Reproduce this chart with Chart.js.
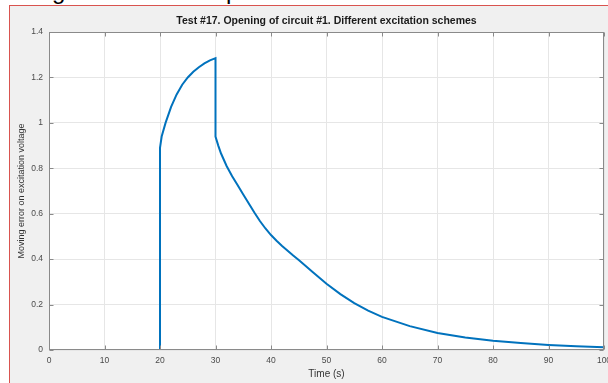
<!DOCTYPE html>
<html>
<head>
<meta charset="utf-8">
<script src="https://cdn.jsdelivr.net/npm/chart.js@4.4.1/dist/chart.umd.min.js"></script>
<style>
  html, body { margin: 0; padding: 0; background: #fff; }
  #wrap { position: relative; width: 608px; height: 383px; overflow: hidden; }
  #frame { position: absolute; left: 9px; top: 5px; right: 0; bottom: 0; background: #f0f0f0;
           border-left: 1px solid #d9534f; border-top: 1px solid #d9534f; }
  .cut { position: absolute; top: -21px; font: 24px "Liberation Sans", Arial, sans-serif; line-height: 24px; color: #000; }
  canvas { position: absolute; left: 0; top: 0; }
</style>
</head>
<body>
<div id="wrap">
  <span class="cut" style="left:52px">g</span>
  <span class="cut" style="left:226px">p</span>
  <div id="frame"></div>
  <canvas id="chart1" width="608" height="383"></canvas>
</div>
<script>
// values (time in s, moving error)
var timeValues = [0, 20, 20, 20.3, 21, 22, 23, 24, 25, 26, 27, 28, 29, 30,
  30, 30.5, 31, 32, 33, 34, 35, 36, 37, 38, 39, 40,
  41, 42, 43, 44, 45, 47.5, 50, 52.5, 55, 57.5, 60,
  65, 70, 75, 80, 85, 90, 95, 100];
var errorValues = [0, 0, 0.89, 0.94, 1.0, 1.07, 1.125, 1.168, 1.2, 1.225, 1.245, 1.262, 1.275, 1.285,
  0.94, 0.90, 0.865, 0.81, 0.765, 0.725, 0.685, 0.645, 0.605, 0.568, 0.535, 0.506,
  0.481, 0.458, 0.437, 0.416, 0.396, 0.343, 0.292, 0.246, 0.206, 0.173, 0.146,
  0.105, 0.075, 0.055, 0.041, 0.0305, 0.0225, 0.0165, 0.012];

var xTicks = [0, 10, 20, 30, 40, 50, 60, 70, 80, 90, 100];
var xTickLabels = ['0', '10', '20', '30', '40', '50', '60', '70', '80', '90', '100'];
var yTicks = [0, 0.2, 0.4, 0.6, 0.8, 1, 1.2, 1.4];
var yTickLabels = ['0', '0.2', '0.4', '0.6', '0.8', '1', '1.2', '1.4'];

var points = timeValues.map(function (t, i) { return { x: t, y: errorValues[i] }; });

var fontFamily = '"Liberation Sans", Arial, Helvetica, sans-serif';
var axisGray = '#8a8a8a';

// white plot box, full frame and inward ticks like matlab axes
var matlabAxes = {
  id: 'matlabAxes',
  beforeDraw: function (chart) {
    var a = chart.chartArea, ctx = chart.ctx;
    ctx.save();
    ctx.fillStyle = '#ffffff';
    ctx.fillRect(a.left, a.top, a.right - a.left, a.bottom - a.top);
    ctx.restore();
  },
  afterDraw: function (chart) {
    var a = chart.chartArea, ctx = chart.ctx;
    var xs = chart.scales.x, ys = chart.scales.y;
    var len = 4;
    var l = Math.round(a.left) + 0.5, r = Math.round(a.right) - 0.5;
    var t = Math.round(a.top) + 0.5, b = Math.round(a.bottom) - 0.5;
    ctx.save();
    ctx.strokeStyle = axisGray;
    ctx.lineWidth = 1;
    ctx.beginPath();
    xTicks.forEach(function (v) {
      var px = Math.round(xs.getPixelForValue(v)) + 0.5;
      ctx.moveTo(px, b); ctx.lineTo(px, b - len);
      ctx.moveTo(px, t); ctx.lineTo(px, t + len);
    });
    yTicks.forEach(function (v) {
      var py = Math.round(ys.getPixelForValue(v)) + 0.5;
      ctx.moveTo(l, py); ctx.lineTo(l + len, py);
      ctx.moveTo(r, py); ctx.lineTo(r - len, py);
    });
    ctx.stroke();
    ctx.strokeRect(l, t, r - l, b - t);
    ctx.restore();
  }
};

var ctx = document.getElementById('chart1').getContext('2d');
var myChart = new Chart(ctx, {
  type: 'line',
  data: {
    datasets: [{
      label: 'Moving error',
      data: points,
      borderColor: '#0072bd',
      borderWidth: 2,
      pointRadius: 0,
      tension: 0,
      fill: false
    }]
  },
  options: {
    responsive: false,
    animation: false,
    events: [],
    layout: { padding: { left: 0, right: 4, top: 0, bottom: 0 } },
    plugins: {
      legend: { display: false },
      tooltip: { enabled: false },
      title: {
        display: true,
        fullSize: false,
        text: 'Test #17. Opening of circuit #1. Different excitation schemes',
        color: '#1a1a1a',
        font: { family: fontFamily, size: 10.5, weight: 'bold', lineHeight: '12px' },
        padding: { top: 15, bottom: 5 }
      }
    },
    scales: {
      x: {
        type: 'linear',
        min: 0,
        max: 100,
        afterBuildTicks: function (scale) {
          scale.ticks = xTicks.map(function (v) { return { value: v }; });
        },
        afterFit: function (scale) {
          scale.height = 33;
          scale.paddingLeft = 0;
          scale.paddingRight = 0;
        },
        ticks: {
          autoSkip: false,
          maxRotation: 0,
          padding: 6,
          color: '#4a4a4a',
          font: { family: fontFamily, size: 8.5 },
          callback: function (value, index) { return xTickLabels[index]; }
        },
        grid: { color: '#e6e6e6', drawTicks: false },
        border: { display: false },
        title: {
          display: true,
          text: 'Time (s)',
          color: '#333333',
          font: { family: fontFamily, size: 10, lineHeight: '12px' },
          padding: { top: 0, bottom: 3 }
        }
      },
      y: {
        type: 'linear',
        min: 0,
        max: 1.4,
        afterBuildTicks: function (scale) {
          scale.ticks = yTicks.map(function (v) { return { value: v }; });
        },
        afterFit: function (scale) {
          scale.width = 49;
          scale.paddingTop = 0;
          scale.paddingBottom = 0;
        },
        ticks: {
          autoSkip: false,
          padding: 6,
          color: '#4a4a4a',
          font: { family: fontFamily, size: 8.5 },
          callback: function (value, index) { return yTickLabels[index]; }
        },
        grid: { color: '#e6e6e6', drawTicks: false },
        border: { display: false },
        title: {
          display: true,
          text: 'Moving error on excitation voltage',
          color: '#333333',
          font: { family: fontFamily, size: 9, lineHeight: '12px' },
          padding: { top: 16, bottom: 0 }
        }
      }
    }
  },
  plugins: [matlabAxes]
});
</script>
</body>
</html>
